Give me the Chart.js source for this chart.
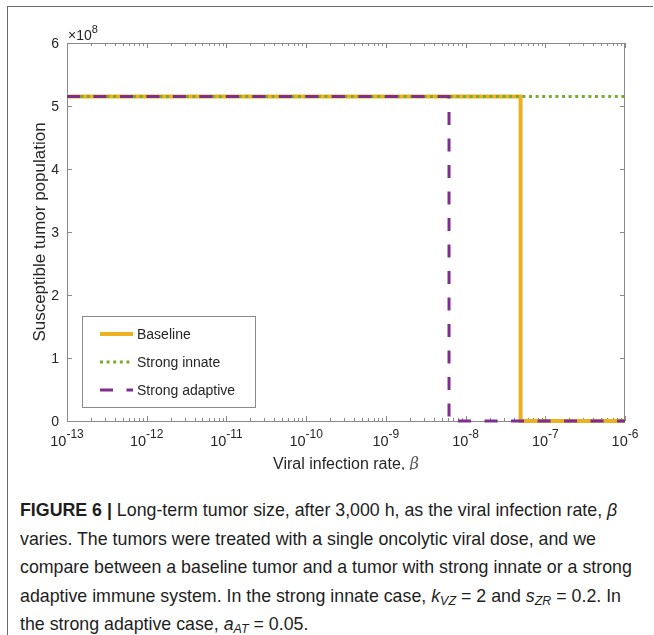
<!DOCTYPE html>
<html>
<head>
<meta charset="utf-8">
<script src="https://cdn.jsdelivr.net/npm/chart.js@4/dist/chart.umd.min.js"></script>
<style>
  html, body { margin: 0; padding: 0; background: #fff; }
  body { width: 654px; height: 635px; position: relative; overflow: hidden; }
  #frame { position: absolute; left: 7px; top: 6px; width: 645px; height: 700px;
           border-left: 1.5px solid #6a6a6a; border-top: 1.5px solid #6a6a6a; }
  #wrap { position: absolute; left: 0; top: 0; width: 654px; height: 470px; }
  #caption { position: absolute; left: 20px; top: 496px; width: 640px;
             font-family: "Liberation Sans", Arial, sans-serif; font-size: 17.8px;
             line-height: 28.5px; color: #1e1e1e; white-space: nowrap; }
  #caption b { font-weight: bold; }
  #caption i { font-style: italic; }
  #caption sub { font-size: 12.5px; font-style: italic; vertical-align: -3px; line-height: 0; }
</style>
</head>
<body>
<div id="frame"></div>
<div id="wrap"><canvas id="c" width="654" height="470"></canvas></div>
<div id="caption">
  <div><b>FIGURE 6 |</b> Long-term tumor size, after 3,000 h, as the viral infection rate, <i>β</i></div>
  <div>varies. The tumors were treated with a single oncolytic viral dose, and we</div>
  <div>compare between a baseline tumor and a tumor with strong innate or a strong</div>
  <div>adaptive immune system. In the strong innate case, <i>k</i><sub>VZ</sub> = 2 and <i>s</i><sub>ZR</sub> = 0.2. In</div>
  <div>the strong adaptive case, <i>a</i><sub>AT</sub> = 0.05.</div>
</div>
<script>
// ---- data ----
const seriesNames = ["Baseline", "Strong innate", "Strong adaptive"];
const baselineBeta = [1e-13, 4.9e-8, 4.9e-8, 1e-6];
const baselineS    = [5.15e8, 5.15e8, 0, 0];
const innateBeta   = [1e-13, 1e-6];
const innateS      = [5.15e8, 5.15e8];
const adaptiveBeta = [1e-13, 6.2e-9, 6.2e-9, 1e-6];
const adaptiveS    = [5.15e8, 5.15e8, 0, 0];
const xTickValues  = [1e-13, 1e-12, 1e-11, 1e-10, 1e-9, 1e-8, 1e-7, 1e-6];
const xTickExps    = ["-13", "-12", "-11", "-10", "-9", "-8", "-7", "-6"];
const yTickValues  = [0, 1e8, 2e8, 3e8, 4e8, 5e8, 6e8];
const yTickLabels  = ["0", "1", "2", "3", "4", "5", "6"];

const FONT = '"Liberation Sans", Arial, sans-serif';
const AXIS = '#8a8a8a';
const TXT = '#262626';

function pts(xs, ys) { return xs.map((x, i) => ({ x: x, y: ys[i] })); }

const decorPlugin = {
  id: 'decor',
  beforeDatasetsDraw(chart) {
    const { ctx, chartArea: a, scales: { x, y } } = chart;
    ctx.save();
    ctx.strokeStyle = AXIS;
    ctx.lineWidth = 1;
    ctx.strokeRect(Math.round(a.left) + 0.5, Math.round(a.top) + 0.5,
                   Math.round(a.right - a.left) - 1, Math.round(a.bottom - a.top));
    ctx.beginPath();
    for (let d = 0; d < xTickValues.length; d++) {
      const v = xTickValues[d];
      const px = Math.round(x.getPixelForValue(v)) + 0.5;
      ctx.moveTo(px, a.bottom); ctx.lineTo(px, a.bottom - 5);
      ctx.moveTo(px, a.top); ctx.lineTo(px, a.top + 5);
      if (d < xTickValues.length - 1) {
        for (let m = 2; m <= 9; m++) {
          const mx = Math.round(x.getPixelForValue(v * m)) + 0.5;
          ctx.moveTo(mx, a.bottom); ctx.lineTo(mx, a.bottom - 3);
          ctx.moveTo(mx, a.top); ctx.lineTo(mx, a.top + 3);
        }
      }
    }
    yTickValues.forEach(v => {
      const py = Math.round(y.getPixelForValue(v)) + 0.5;
      ctx.moveTo(a.left, py); ctx.lineTo(a.left + 5, py);
      ctx.moveTo(a.right, py); ctx.lineTo(a.right - 5, py);
    });
    ctx.stroke();

    // x tick labels: 10 with superscript exponent
    ctx.fillStyle = TXT;
    ctx.textBaseline = 'alphabetic';
    xTickValues.forEach((v, i) => {
      const px = x.getPixelForValue(v);
      ctx.font = '14.5px ' + FONT;
      const w1 = ctx.measureText('10').width;
      ctx.font = '12px ' + FONT;
      const w2 = ctx.measureText(xTickExps[i]).width;
      const start = px - (w1 + w2) / 2;
      ctx.font = '14.5px ' + FONT;
      ctx.textAlign = 'left';
      ctx.fillText('10', start, a.bottom + 25);
      ctx.font = '12px ' + FONT;
      ctx.fillText(xTickExps[i], start + w1, a.bottom + 17);
    });
    ctx.font = '14px ' + FONT;
    ctx.textAlign = 'right';
    ctx.textBaseline = 'middle';
    yTickValues.forEach((v, i) => {
      ctx.fillText(yTickLabels[i], a.left - 8, y.getPixelForValue(v) + 1);
    });
    // exponent label
    ctx.textAlign = 'left';
    ctx.textBaseline = 'alphabetic';
    ctx.font = '14px ' + FONT;
    ctx.fillText('\u00d710', a.left + 1, a.top - 3);
    const wx = ctx.measureText('\u00d710').width;
    ctx.font = '11px ' + FONT;
    ctx.fillText('8', a.left + 1 + wx, a.top - 10);

    // axis titles
    ctx.font = '16px ' + FONT;
    const t1 = 'Viral infection rate, ';
    const w3 = ctx.measureText(t1).width;
    ctx.font = 'italic 16px "DejaVu Serif", serif';
    const w4 = ctx.measureText('\u03b2').width;
    const cx = (a.left + a.right) / 2;
    const sx = cx - (w3 + w4) / 2;
    ctx.font = '16px ' + FONT;
    ctx.fillText(t1, sx, a.bottom + 48);
    ctx.font = 'italic 16px "DejaVu Serif", serif';
    ctx.fillStyle = '#555';
    ctx.fillText('\u03b2', sx + w3, a.bottom + 48);
    ctx.fillStyle = TXT;

    ctx.save();
    ctx.translate(40, (a.top + a.bottom) / 2);
    ctx.rotate(-Math.PI / 2);
    ctx.textAlign = 'center';
    ctx.textBaseline = 'middle';
    ctx.font = '17px ' + FONT;
    ctx.fillText('Susceptible tumor population', 0, 0);
    ctx.restore();
    ctx.restore();
  },
  afterDatasetsDraw(chart) {
    const { ctx } = chart;
    ctx.save();
    const bx = 82, by = 316, bw = 173, bh = 91;
    ctx.fillStyle = '#fff';
    ctx.fillRect(bx, by, bw, bh);
    ctx.strokeStyle = '#8a8a8a';
    ctx.lineWidth = 1;
    ctx.strokeRect(bx + 0.5, by + 0.5, bw, bh);
    const rows = [334, 362, 390];
    chart.data.datasets.forEach((ds, i) => {
      const yy = rows[i];
      ctx.strokeStyle = ds.borderColor;
      ctx.lineWidth = ds.borderWidth;
      ctx.setLineDash(ds.borderDash || []);
      ctx.lineCap = 'butt';
      ctx.beginPath();
      ctx.moveTo(100, yy); ctx.lineTo(133, yy);
      ctx.stroke();
      ctx.setLineDash([]);
      ctx.fillStyle = TXT;
      ctx.font = '14px ' + FONT;
      ctx.textAlign = 'left';
      ctx.textBaseline = 'middle';
      ctx.fillText(ds.label, 137, yy + 1);
    });
    ctx.restore();
  }
};

new Chart(document.getElementById('c'), {
  type: 'line',
  data: {
    datasets: [
      { label: seriesNames[0], data: pts(baselineBeta, baselineS), borderColor: '#EDB120', order: 3,
        borderWidth: 4, borderCapStyle: 'butt', pointRadius: 0, tension: 0, clip: 6 },
      { label: seriesNames[1], data: pts(innateBeta, innateS), borderColor: '#77AC30', order: 2,
        borderWidth: 3, borderDash: [3, 3.6], borderCapStyle: 'butt', pointRadius: 0, tension: 0, clip: 6 },
      { label: seriesNames[2], data: pts(adaptiveBeta, adaptiveS), borderColor: '#7E2F8E', order: 1,
        borderWidth: 3, borderDash: [13, 13.5], borderCapStyle: 'butt', pointRadius: 0, tension: 0, clip: 6 }
    ]
  },
  options: {
    responsive: false,
    animation: false,
    devicePixelRatio: 1,
    layout: { padding: { left: 0, top: 43, right: 29, bottom: 0 } },
    plugins: { legend: { display: false }, tooltip: { enabled: false }, title: { display: false } },
    scales: {
      x: {
        type: 'logarithmic', min: 1e-13, max: 1e-6,
        grid: { display: false }, border: { display: false },
        ticks: { display: false },
        afterBuildTicks: s => { s.ticks = xTickValues.map(v => ({ value: v })); },
        afterFit: s => { s.height = 470 - 421; }
      },
      y: {
        type: 'linear', min: 0, max: 6e8,
        grid: { display: false }, border: { display: false },
        ticks: { display: false, stepSize: 1e8 },
        afterBuildTicks: s => { s.ticks = yTickValues.map(v => ({ value: v })); },
        afterFit: s => { s.width = 67; }
      }
    }
  },
  plugins: [decorPlugin]
});
</script>
</body>
</html>
